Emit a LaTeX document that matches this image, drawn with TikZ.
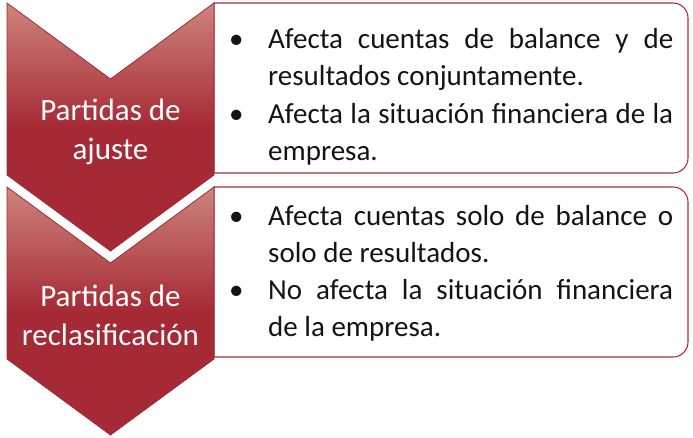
\documentclass[tikz,border=0pt]{standalone}
\usepackage{fontspec}
\setmainfont{Carlito}
\definecolor{chevdark}{RGB}{166,42,53}
\definecolor{chevlight}{RGB}{205,132,124}
\definecolor{chevline}{RGB}{158,44,54}
\definecolor{boxline}{RGB}{170,45,56}
\definecolor{txt}{RGB}{20,20,20}
\pgfdeclareverticalshading{chevshade}{100bp}{color(0bp)=(chevdark); color(50bp)=(chevdark); color(75bp)=(chevlight); color(100bp)=(chevlight)}
\newcommand\bulletitem[1]{\par\noindent\hangindent=39pt\hangafter=1\makebox[39pt][l]{\strut\textbullet}#1\par}
\tikzset{
  chev/.style={shading=chevshade, draw=chevline, line width=0.8pt, line join=miter},
  infobox/.style={draw=boxline, fill=white, line width=1.1pt},
  infotext/.style={anchor=north west, inner sep=0pt, text width=444pt, align=justify, text=txt,
     font=\fontsize{29}{37.3}\selectfont},
  chevtext/.style={anchor=base, inner sep=0pt, align=center, text=white,
     font=\fontsize{31}{39}\selectfont}
}
\begin{document}
\begin{tikzpicture}[x=1pt,y=-1pt]
\useasboundingbox (0,0) rectangle (693,437);
% boxes
\draw[infobox] (214,3) -- (673,3) .. controls (681.3,3) and (688,9.7) .. (688,18) -- (688,158) .. controls (688,166.3) and (681.3,173) .. (673,173) -- (214,173) -- cycle;
\draw[infobox] (214,187) -- (673,187) .. controls (681.3,187) and (688,193.7) .. (688,202) -- (688,342) .. controls (688,350.3) and (681.3,357) .. (673,357) -- (214,357) -- cycle;
% chevrons
\draw[chev] (7,3) -- (110.5,79) -- (214,3) -- (214,175) -- (110.5,251) -- (7,175) -- cycle;
\draw[chev] (7,187) -- (110.5,263) -- (214,187) -- (214,359) -- (110.5,435) -- (7,359) -- cycle;
% chevron labels (anchor base = last line)
\node[chevtext] (c1) at (110.5,159) {Partidas de\\ajuste};
\node[chevtext] (c2) at (110.5,345) {Partidas de\\reclasificación};
% box texts
\node[infotext] (t1) at (229,11) {\bulletitem{Afecta cuentas de balance y de\linebreak resultados conjuntamente.}\bulletitem{Afecta la situación financiera de la\linebreak empresa.}};
\node[infotext] (t2) at (229,187.5) {\bulletitem{Afecta cuentas solo de balance o\linebreak solo de resultados.}\bulletitem{No afecta la situación financiera\linebreak de la empresa.}};
\end{tikzpicture}
\end{document}
